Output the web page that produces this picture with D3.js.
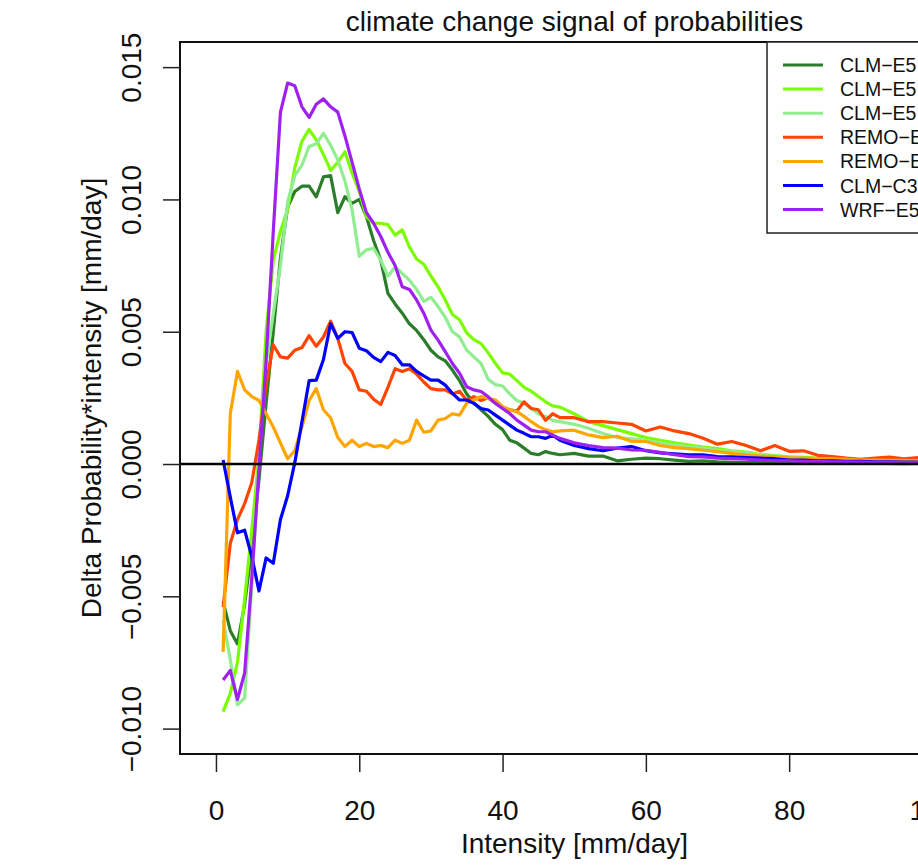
<!DOCTYPE html>
<html>
<head>
<meta charset="utf-8">
<script src="https://cdn.jsdelivr.net/npm/d3@7"></script>
<style>
  body { margin: 0; background: #fff; overflow: hidden; }
  svg { display: block; font-family: "Liberation Sans", Arial, sans-serif; }
</style>
</head>
<body>
<div id="chart"></div>
<script>
// Intensity classes [mm/day]
const intensity = [1, 2, 3, 4, 5, 6, 7, 8, 9, 10, 11, 12, 13, 14, 15, 16, 17, 18, 19, 20,
  21, 22, 23, 24, 25, 26, 27, 28, 29, 30, 31, 32, 33, 34, 35, 36, 37, 38, 39, 40,
  41, 42, 43, 44, 45, 46, 47, 48, 50, 52, 54, 56, 58, 60, 62, 64, 66, 68, 70, 72,
  74, 76, 78, 80, 82, 84, 86, 88, 90, 92, 94, 96, 98, 100];

// Delta probability*intensity, in units of 0.001 mm/day
const clmE5a = [-5.2, -6.3, -6.8, -5.3, -3.2, -0.6, 2.3, 5.0, 7.8, 9.7, 10.3, 10.5, 10.5, 10.1, 10.85, 10.9, 9.5, 10.1, 9.85, 10.0,
  9.35, 8.45, 7.7, 6.45, 6.05, 5.7, 5.3, 5.05, 4.7, 4.3, 4.05, 3.9, 3.55, 3.15, 2.65, 2.3, 2.05, 1.8, 1.5, 1.3,
  0.9, 0.8, 0.6, 0.4, 0.35, 0.47, 0.4, 0.35, 0.4, 0.3, 0.3, 0.12, 0.18, 0.22, 0.2, 0.15, 0.1, 0.12, 0.08, 0.06,
  0.05, 0.05, 0.04, 0.05, 0.03, 0.04, 0.03, 0.02, 0.03, 0.02, 0.02, 0.01, 0.02, 0.01];
const clmE5b = [-9.36, -8.67, -7.5, -5.1, -2.5, 0.3, 5.0, 7.7, 8.8, 9.6, 11.2, 12.2, 12.65, 12.25, 11.7, 11.1, 11.4, 11.8, 11.0, 10.3,
  9.35, 9.1, 9.1, 9.05, 8.65, 8.85, 8.2, 7.75, 7.55, 7.1, 6.7, 6.2, 5.65, 5.45, 4.95, 4.7, 4.55, 4.2, 3.8, 3.45,
  3.4, 3.15, 2.9, 2.75, 2.55, 2.35, 2.2, 2.15, 1.9, 1.6, 1.45, 1.3, 1.15, 1.0, 0.9, 0.8, 0.72, 0.64, 0.58, 0.5,
  0.45, 0.36, 0.32, 0.27, 0.25, 0.22, 0.2, 0.18, 0.15, 0.14, 0.12, 0.12, 0.1, 0.1];
const clmE5c = [-5.9, -7.4, -9.1, -8.85, -4.6, 0.2, 3.8, 5.7, 7.5, 9.9, 10.9, 11.3, 12.0, 12.1, 12.5, 12.05, 11.5, 10.7, 9.6, 7.85,
  8.1, 8.15, 7.7, 7.1, 7.45, 7.2, 6.95, 6.6, 6.15, 6.3, 5.95, 5.55, 5.0, 4.8, 4.3, 4.05, 3.8, 3.2, 3.0, 2.95,
  2.65, 2.4, 2.3, 2.1, 1.9, 1.8, 1.65, 1.6, 1.5, 1.35, 1.15, 1.0, 0.95, 0.9, 0.8, 0.72, 0.66, 0.6, 0.53, 0.48,
  0.42, 0.33, 0.3, 0.26, 0.22, 0.2, 0.18, 0.16, 0.14, 0.12, 0.1, 0.1, 0.08, 0.08];
const remoE5a = [-5.4, -3.0, -2.1, -1.5, -0.7, 0.9, 3.0, 4.5, 4.05, 4.0, 4.3, 4.4, 4.85, 4.45, 4.8, 5.4, 4.75, 3.8, 3.5, 2.8,
  2.75, 2.45, 2.25, 2.9, 3.6, 3.5, 3.6, 3.4, 3.1, 2.85, 2.8, 2.8, 2.65, 2.75, 2.4, 2.55, 2.4, 2.5, 2.3, 2.15,
  2.05, 2.0, 2.35, 2.1, 2.05, 1.65, 1.9, 1.75, 1.75, 1.6, 1.6, 1.55, 1.5, 1.25, 1.4, 1.25, 1.15, 0.97, 0.75, 0.85,
  0.7, 0.5, 0.7, 0.48, 0.5, 0.33, 0.28, 0.22, 0.18, 0.22, 0.26, 0.2, 0.24, 0.2];
const remoE5b = [-7.1, 1.9, 3.5, 2.8, 2.55, 2.4, 1.9, 1.4, 0.8, 0.2, 0.5, 1.4, 2.4, 2.85, 2.05, 1.75, 1.0, 0.66, 0.9, 0.66,
  0.78, 0.66, 0.7, 0.62, 0.9, 0.78, 0.9, 1.66, 1.2, 1.25, 1.66, 1.72, 1.9, 1.85, 2.3, 2.42, 2.55, 2.48, 2.42, 2.17,
  2.05, 1.98, 1.8, 1.6, 1.42, 1.3, 1.22, 1.25, 1.28, 1.1, 1.0, 1.05, 0.85, 0.85, 0.7, 0.62, 0.58, 0.52, 0.47, 0.4,
  0.35, 0.3, 0.28, 0.24, 0.22, 0.2, 0.2, 0.18, 0.15, 0.15, 0.14, 0.14, 0.12, 0.12];
const clmC3 = [0.15, -1.25, -2.6, -2.5, -3.5, -4.8, -3.55, -3.75, -2.1, -1.2, 0.05, 1.6, 3.15, 3.17, 3.95, 5.3, 4.75, 5.0, 4.97, 4.38,
  4.28, 4.03, 3.87, 4.22, 4.1, 3.75, 3.75, 3.5, 3.33, 3.17, 3.17, 2.98, 2.67, 2.42, 2.42, 2.29, 2.1, 2.04, 1.85, 1.66,
  1.47, 1.28, 1.16, 1.03, 1.03, 0.97, 1.09, 0.9, 0.7, 0.58, 0.5, 0.6, 0.66, 0.5, 0.42, 0.38, 0.35, 0.35, 0.28, 0.27,
  0.24, 0.22, 0.2, 0.15, 0.15, 0.12, 0.12, 0.1, 0.1, 0.08, 0.08, 0.07, 0.07, 0.06];
const wrfE5 = [-8.16, -7.8, -8.9, -7.9, -4.3, -0.2, 3.9, 8.8, 13.3, 14.4, 14.3, 13.5, 13.1, 13.6, 13.8, 13.5, 13.3, 12.4, 11.4, 10.4,
  9.5, 9.1, 8.6, 8.0, 7.5, 6.7, 6.6, 6.2, 5.7, 5.06, 4.68, 4.25, 3.8, 3.43, 2.92, 2.8, 2.74, 2.54, 2.29, 2.1,
  1.91, 1.66, 1.47, 1.28, 1.22, 1.22, 1.09, 0.97, 0.8, 0.7, 0.62, 0.6, 0.53, 0.52, 0.44, 0.35, 0.28, 0.27, 0.22, 0.2,
  0.18, 0.15, 0.13, 0.12, 0.1, 0.1, 0.08, 0.08, 0.07, 0.06, 0.06, 0.05, 0.05, 0.05];

const seriesNames = ["CLM\u2212E5", "CLM\u2212E5", "CLM\u2212E5", "REMO\u2212E5", "REMO\u2212E5", "CLM\u2212C3", "WRF\u2212E5"];
const seriesValues = [clmE5a, clmE5b, clmE5c, remoE5a, remoE5b, clmC3, wrfE5];
const seriesColors = ["#2b7d2b", "#7cfc00", "#90ee90", "#ff4500", "#ffa500", "#0000ff", "#a020f0"];

const xTicks = [0, 20, 40, 60, 80, 100];
const yTicks = [-0.010, -0.005, 0.000, 0.005, 0.010, 0.015];

function drawChart() {
    const W = 918, H = 867;
    // plot region (box runs off the right edge like in the original)
    const left = 180, right = 969, top = 42, bottom = 754;

    const svg = d3.select("#chart").append("svg")
        .attr("width", W)
        .attr("height", H);

    svg.append("rect").attr("width", W).attr("height", H).attr("fill", "#fff");

    const x = d3.scaleLinear().domain([-5.02, 105.1]).range([left, right]);
    const y = d3.scaleLinear().domain([-0.01096, 0.01595]).range([bottom, top]);

    svg.append("clipPath").attr("id", "plotclip")
        .append("rect")
        .attr("x", left).attr("y", top)
        .attr("width", right - left).attr("height", bottom - top);

    // lines
    const line = d3.line()
        .x(d => x(d.x))
        .y(d => y(d.v / 1000));

    const lines = svg.append("g").attr("clip-path", "url(#plotclip)");
    seriesValues.forEach((vals, i) => {
        const pts = intensity.map((xv, j) => ({x: xv, v: vals[j]}));
        lines.append("path")
            .datum(pts)
            .attr("d", line)
            .attr("fill", "none")
            .attr("stroke", seriesColors[i])
            .attr("stroke-width", 3.2)
            .attr("stroke-linejoin", "round");
    });

    // zero line
    lines.append("line")
        .attr("x1", left).attr("x2", right)
        .attr("y1", y(0)).attr("y2", y(0))
        .attr("stroke", "#000")
        .attr("stroke-width", 2.6);

    // frame
    svg.append("rect")
        .attr("x", left).attr("y", top)
        .attr("width", right - left).attr("height", bottom - top)
        .attr("fill", "none")
        .attr("stroke", "#111")
        .attr("stroke-width", 2);

    // x axis
    const xAxis = svg.append("g")
        .attr("transform", `translate(0,${bottom + 1})`)
        .call(d3.axisBottom(x).tickValues(xTicks).tickSize(17).tickFormat(d3.format("d")));
    xAxis.select(".domain").remove();
    xAxis.selectAll(".tick line").attr("stroke", "#222").attr("stroke-width", 1.5);
    xAxis.selectAll(".tick text")
        .attr("y", 65).attr("dy", 0)
        .attr("fill", "#111")
        .style("font-size", "28px")
        .style("font-family", "'Liberation Sans', Arial, sans-serif");

    // y axis
    const yAxis = svg.append("g")
        .attr("transform", `translate(${left},0)`)
        .call(d3.axisLeft(y).tickValues(yTicks).tickSize(17).tickFormat(d3.format(".3f")));
    yAxis.select(".domain").remove();
    yAxis.selectAll(".tick line").attr("stroke", "#222").attr("stroke-width", 1.5);
    yAxis.selectAll(".tick text")
        .attr("x", 0).attr("dy", 0)
        .attr("transform", "translate(-39,0) rotate(-90)")
        .attr("text-anchor", "middle")
        .attr("fill", "#111")
        .style("font-size", "28px")
        .style("font-family", "'Liberation Sans', Arial, sans-serif");

    // title and axis labels
    svg.append("text")
        .attr("x", (left + right) / 2)
        .attr("y", 31)
        .attr("text-anchor", "middle")
        .attr("fill", "#111")
        .style("font-size", "28px")
        .text("climate change signal of probabilities");

    svg.append("text")
        .attr("x", (left + right) / 2)
        .attr("y", 853)
        .attr("text-anchor", "middle")
        .attr("fill", "#111")
        .style("font-size", "28px")
        .text("Intensity [mm/day]");

    svg.append("text")
        .attr("transform", `translate(101,${(top + bottom) / 2}) rotate(-90)`)
        .attr("text-anchor", "middle")
        .attr("fill", "#111")
        .style("font-size", "28px")
        .text("Delta Probability*intensity [mm/day]");

    // legend (top right, cut by the page edge)
    const legend = svg.append("g").attr("transform", "translate(767,42)");
    legend.append("rect")
        .attr("x", 0).attr("y", 0)
        .attr("width", 300).attr("height", 191)
        .attr("fill", "#fff")
        .attr("stroke", "#222")
        .attr("stroke-width", 1.5);

    seriesNames.forEach((name, i) => {
        const ly = 23 + i * 24.1;
        legend.append("line")
            .attr("x1", 16).attr("x2", 56)
            .attr("y1", ly).attr("y2", ly)
            .attr("stroke", seriesColors[i])
            .attr("stroke-width", 3);
        legend.append("text")
            .attr("x", 73)
            .attr("y", ly + 7)
            .attr("fill", "#111")
            .style("font-size", "19.5px")
            .text(name);
    });
}

drawChart();
</script>
</body>
</html>
